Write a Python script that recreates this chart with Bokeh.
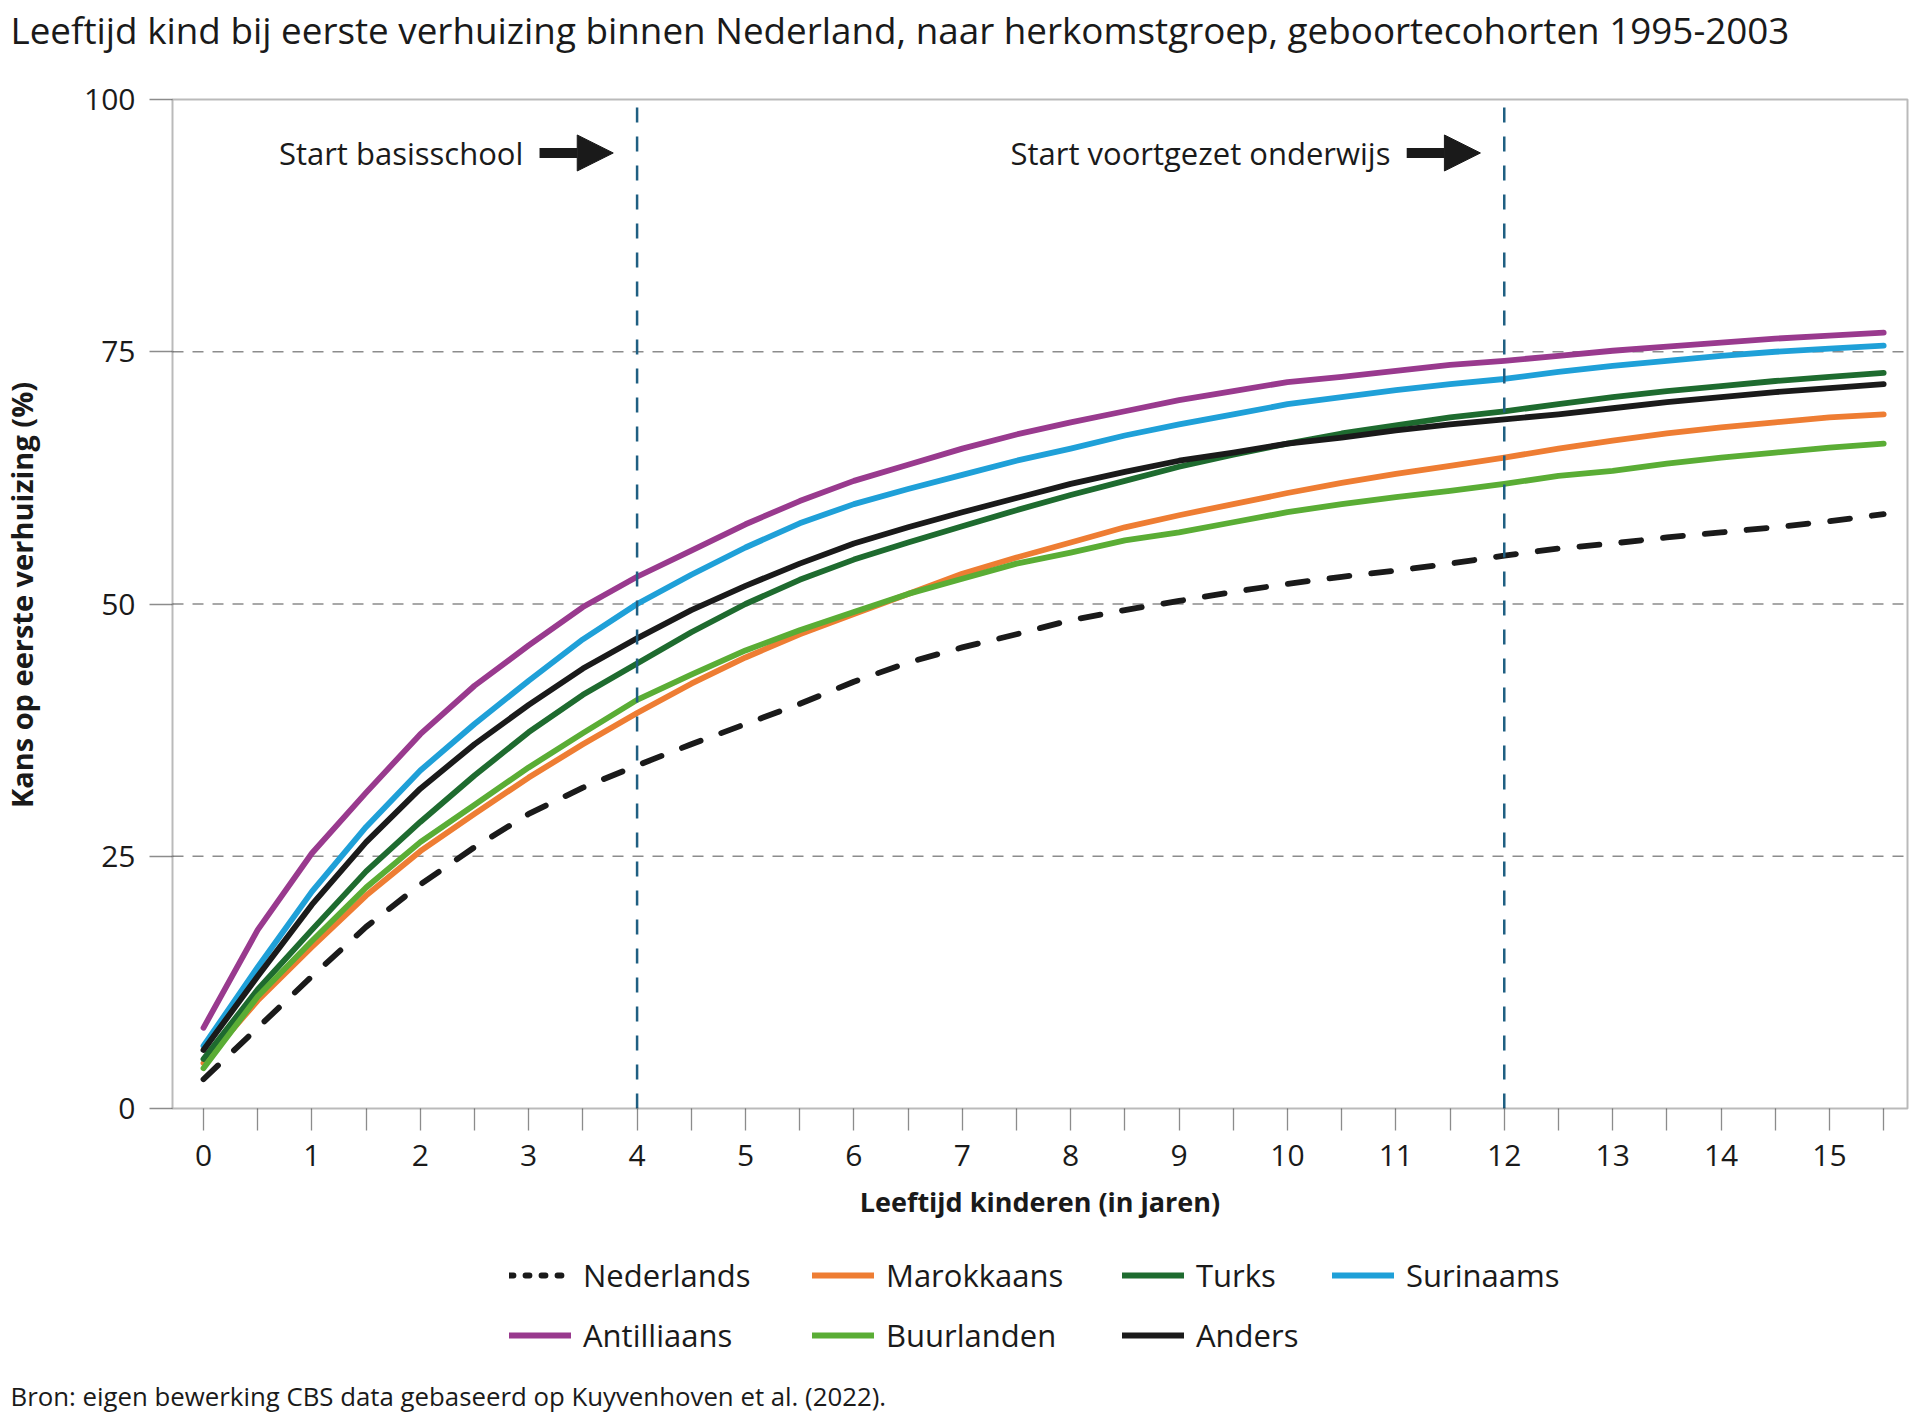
from bokeh.plotting import figure
from bokeh.models import (Range1d, FixedTicker, Legend, LegendItem, Label, LinearAxis,
                          Arrow, NormalHead, BoxAnnotation)
from bokeh.embed import file_html
from bokeh.resources import INLINE

FONT = "Open Sans"
INK = "#1a1a1a"
TICK_GREY = "#8c8c8c"

title_text = ("Leeftijd kind bij eerste verhuizing binnen Nederland, naar herkomstgroep, "
              "geboortecohorten 1995-2003")
source_text = "Bron: eigen bewerking CBS data gebaseerd op Kuyvenhoven et al. (2022)."
x_label = "Leeftijd kinderen (in jaren)"
y_label = "Kans op eerste verhuizing (%)"

# age in years (half-year steps)
age = [0, 0.5, 1, 1.5, 2, 2.5, 3, 3.5, 4, 4.5, 5, 5.5, 6, 6.5, 7, 7.5,
       8, 8.5, 9, 9.5, 10, 10.5, 11, 11.5, 12, 12.5, 13, 13.5, 14, 14.5, 15, 15.5]

nederlands = [2.9, 8.0, 13.1, 18.0, 22.2, 25.9, 29.2, 31.8, 34.0, 36.1, 38.1, 40.1,
              42.3, 44.2, 45.7, 47.0, 48.4, 49.4, 50.3, 51.2, 52.0, 52.7, 53.3, 54.0,
              54.8, 55.5, 56.0, 56.6, 57.1, 57.6, 58.2, 58.9]
marokkaans = [4.5, 10.7, 16.0, 21.1, 25.5, 29.2, 32.8, 36.1, 39.2, 42.1, 44.7, 47.0,
              49.0, 51.0, 53.0, 54.6, 56.1, 57.6, 58.8, 59.9, 61.0, 62.0, 62.9, 63.7,
              64.5, 65.4, 66.2, 66.9, 67.5, 68.0, 68.5, 68.8]
turks = [4.9, 11.8, 17.7, 23.5, 28.4, 33.0, 37.3, 41.0, 44.1, 47.2, 50.0, 52.4,
         54.4, 56.1, 57.7, 59.3, 60.8, 62.2, 63.6, 64.8, 65.9, 66.9, 67.7, 68.5,
         69.1, 69.8, 70.5, 71.1, 71.6, 72.1, 72.5, 72.9]
surinaams = [6.2, 14.0, 21.5, 27.9, 33.5, 38.1, 42.4, 46.5, 50.0, 52.9, 55.6, 58.0,
             59.9, 61.4, 62.8, 64.2, 65.4, 66.7, 67.8, 68.8, 69.8, 70.5, 71.2, 71.8,
             72.3, 73.0, 73.6, 74.1, 74.6, 75.0, 75.3, 75.6]
antilliaans = [8.0, 17.7, 25.3, 31.3, 37.1, 41.9, 45.9, 49.7, 52.7, 55.3, 57.9, 60.2,
               62.2, 63.8, 65.4, 66.8, 68.0, 69.1, 70.2, 71.1, 72.0, 72.5, 73.1, 73.7,
               74.1, 74.6, 75.1, 75.5, 75.9, 76.3, 76.6, 76.9]
buurlanden = [4.0, 11.1, 16.6, 21.9, 26.4, 30.1, 33.8, 37.2, 40.5, 43.0, 45.4, 47.4,
              49.2, 51.0, 52.5, 54.0, 55.1, 56.3, 57.1, 58.1, 59.1, 59.9, 60.6, 61.2,
              61.9, 62.7, 63.2, 63.9, 64.5, 65.0, 65.5, 65.9]
anders = [5.8, 13.1, 20.2, 26.4, 31.7, 36.1, 40.0, 43.6, 46.6, 49.4, 51.8, 54.0,
          56.0, 57.6, 59.1, 60.5, 61.9, 63.1, 64.2, 65.0, 65.9, 66.5, 67.2, 67.8,
          68.3, 68.8, 69.4, 70.0, 70.5, 71.0, 71.4, 71.8]

series_names = ["Nederlands", "Marokkaans", "Turks", "Surinaams",
                "Antilliaans", "Buurlanden", "Anders"]
series_values = [nederlands, marokkaans, turks, surinaams, antilliaans, buurlanden, anders]
series_colors = ["#1a1a1a", "#ee7d33", "#1e6b2f", "#1fa0d8", "#993a8e", "#5aad35", "#1a1a1a"]
series_dash = ["20 22", "solid", "solid", "solid", "solid", "solid", "solid"]
legend_dash = ["4 12", "solid", "solid", "solid", "solid", "solid", "solid"]

x_ticks = [0, 1, 2, 3, 4, 5, 6, 7, 8, 9, 10, 11, 12, 13, 14, 15]
x_minor = [0.5, 1.5, 2.5, 3.5, 4.5, 5.5, 6.5, 7.5, 8.5, 9.5, 10.5, 11.5, 12.5, 13.5, 14.5, 15.5]
y_ticks = [0, 25, 50, 75, 100]
y_grid = [25, 50, 75]

milestone_age = [4, 12]
milestone_text = ["Start basisschool", "Start voortgezet onderwijs"]

# ---------- geometry (pixels) ----------
W, H = 1920, 1421
BOX_L, BOX_R, BOX_T, BOX_B = 172, 1907, 99, 1108
X_LO, X_HI = -0.286, 15.72
Y_LO, Y_HI = 0, 100
kx = (BOX_R - BOX_L) / (X_HI - X_LO)
ky = (BOX_B - BOX_T) / (Y_HI - Y_LO)
x_range = Range1d(X_LO - BOX_L / kx, X_HI + (W - BOX_R) / kx)
y_range = Range1d(Y_LO - (H - BOX_B) / ky, Y_HI + BOX_T / ky)

p = figure(width=W, height=H, x_range=x_range, y_range=y_range,
           x_axis_type=None, y_axis_type=None,
           output_backend="svg", toolbar_location=None, min_border=0)
p.outline_line_color = None
p.background_fill_color = "white"
p.border_fill_color = "white"
p.grid.visible = False


def style_axis(ax):
    ax.axis_line_color = None
    ax.major_tick_in = 0
    ax.minor_tick_in = 0
    ax.major_tick_line_color = TICK_GREY
    ax.major_tick_line_width = 1.3
    ax.minor_tick_line_color = TICK_GREY
    ax.minor_tick_line_width = 1.3
    ax.major_label_text_font = FONT
    ax.major_label_text_font_size = "30px"
    ax.major_label_text_color = INK
    ax.axis_label_text_font = FONT
    ax.axis_label_text_font_style = "bold"
    ax.axis_label_text_color = INK


xaxis = LinearAxis(fixed_location=Y_LO, bounds=(X_LO, X_HI),
                   ticker=FixedTicker(ticks=x_ticks, minor_ticks=x_minor),
                   axis_label=x_label)
style_axis(xaxis)
xaxis.major_tick_out = 22
xaxis.minor_tick_out = 22
xaxis.major_label_standoff = 14
xaxis.axis_label_text_font_size = "27px"
xaxis.axis_label_standoff = 14
p.add_layout(xaxis, "below")

# bounds extend a little above 100 so that the (hidden) axis centre, and with it
# the axis title, sits slightly above the middle of the box as in the original
yaxis = LinearAxis(fixed_location=X_LO, bounds=(Y_LO, Y_HI + 1.8),
                   ticker=FixedTicker(ticks=y_ticks, minor_ticks=[]),
                   axis_label=y_label)
style_axis(yaxis)
yaxis.major_tick_out = 23
yaxis.minor_tick_out = 0
yaxis.major_label_standoff = 14
yaxis.axis_label_text_font_size = "29px"
yaxis.axis_label_standoff = 40
p.add_layout(yaxis, "left")

# horizontal reference lines at the y grid values, across the plot box
p.segment(x0=[X_LO] * len(y_grid), x1=[X_HI] * len(y_grid), y0=y_grid, y1=y_grid,
          line_color=TICK_GREY, line_width=1.3, line_dash="11 9")

renderers = {}
for name, vals, col, dash, ldash in zip(series_names, series_values, series_colors,
                                        series_dash, legend_dash):
    r = p.line(age, vals, line_color=col, line_width=5.8, line_dash=dash,
               line_cap="round", line_join="round")
    if ldash != dash:
        # key swatch only (no visible data): the key uses a shorter dash pattern
        r = p.line([float("nan")], [float("nan")], line_color=col, line_width=5.8,
                   line_dash=ldash, line_cap="round")
    renderers[name] = r

# milestone lines (start of school types)
p.segment(x0=milestone_age, x1=milestone_age, y0=[Y_LO] * len(milestone_age),
          y1=[Y_HI] * len(milestone_age), line_color="#1f5f82", line_width=2.5,
          line_dash="15 14")

# plot box
p.add_layout(BoxAnnotation(left=X_LO, right=X_HI, bottom=Y_LO, top=Y_HI,
                           fill_alpha=0, line_color=INK, line_width=2))

ann_y = 94.7
for a, txt in zip(milestone_age, milestone_text):
    p.add_layout(Label(x=a - 1.05, y=ann_y, text=txt, text_align="right",
                       text_baseline="middle", text_font=FONT, text_font_size="31px",
                       text_color=INK))
    p.add_layout(Arrow(end=NormalHead(size=36, fill_color=INK, line_color=INK),
                       x_start=a - 0.9, y_start=ann_y, x_end=a - 0.22, y_end=ann_y,
                       line_color=INK, line_width=10))

# legend: 4 columns x 2 rows
columns = [["Nederlands", "Antilliaans"], ["Marokkaans", "Buurlanden"],
           ["Turks", "Anders"], ["Surinaams"]]
col_x = [509, 812, 1122, 1332]
ROW1_C, PITCH, ITEM_H = 1275, 60, 42
for names, cx in zip(columns, col_x):
    items = [LegendItem(label=n, renderers=[renderers[n]]) for n in names]
    bottom_px = ROW1_C + PITCH * (len(names) - 1) + ITEM_H / 2
    lg = Legend(items=items, location=(cx, H - bottom_px), orientation="vertical",
                spacing=PITCH - ITEM_H, padding=0, margin=0, border_line_color=None,
                background_fill_alpha=0, glyph_width=62, glyph_height=ITEM_H,
                label_height=ITEM_H, label_standoff=12,
                label_text_font=FONT, label_text_font_size="31px",
                label_text_color=INK)
    p.add_layout(lg, "center")

# title and source
p.add_layout(Label(x=10, y=H - 29, x_units="screen", y_units="screen", text=title_text,
                   text_font=FONT, text_font_size="36.8px", text_baseline="alphabetic",
                   text_color=INK))
p.add_layout(Label(x=10, y=H - 1395, x_units="screen", y_units="screen", text=source_text,
                   text_font=FONT, text_font_size="25.8px", text_baseline="alphabetic",
                   text_color=INK))

open("out.html", "w").write(file_html(p, INLINE))
